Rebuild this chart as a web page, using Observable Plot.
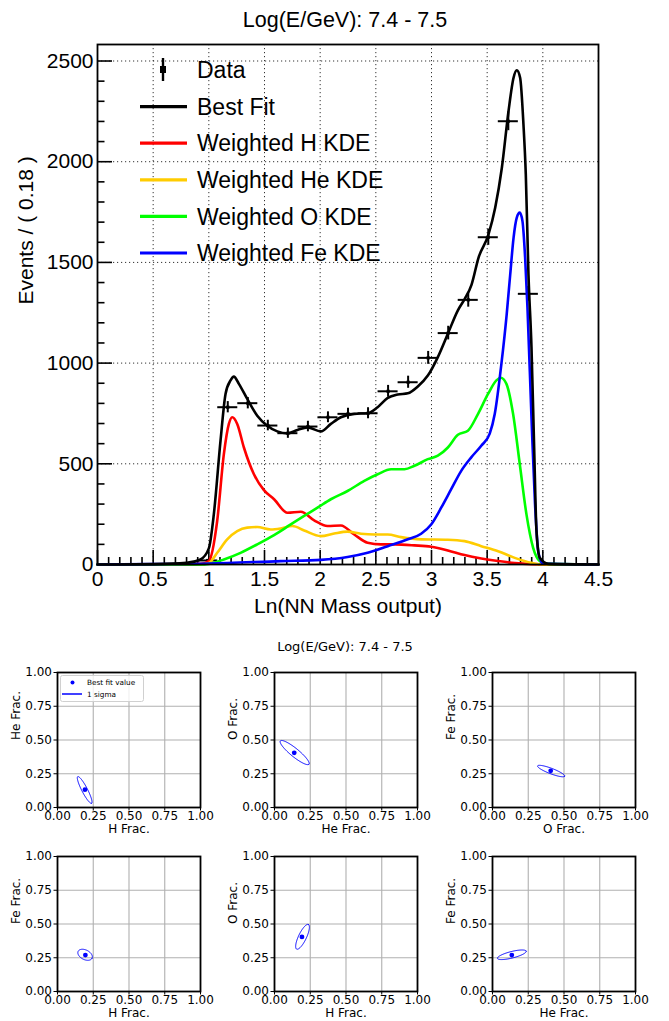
<!DOCTYPE html>
<html><head><meta charset="utf-8">
<script src="https://cdn.jsdelivr.net/npm/d3@7"></script>
<script src="https://cdn.jsdelivr.net/npm/@observablehq/plot@0.6"></script>
<style>
body{margin:0;background:#fff;}
#root{position:relative;width:669px;height:1021px;overflow:hidden;background:#fff;}
.abs{position:absolute;}
</style></head><body><div id="root"></div>
<script>
// ---------- Top chart data ----------
const titleText = "Log(E/GeV): 7.4 - 7.5";
const xAxisTitle = "Ln(NN Mass output)";
const yAxisTitle = "Events / ( 0.18 )";
const xMajor = [0, 0.5, 1, 1.5, 2, 2.5, 3, 3.5, 4, 4.5];
const xMajorLabels = ["0", "0.5", "1", "1.5", "2", "2.5", "3", "3.5", "4", "4.5"];
const yMajor = [0, 500, 1000, 1500, 2000, 2500];
const yMajorLabels = ["0", "500", "1000", "1500", "2000", "2500"];

const dataX = [0.09, 0.27, 0.45, 0.63, 0.81, 0.99, 1.17, 1.35, 1.53, 1.71, 1.89, 2.07, 2.25, 2.43, 2.61, 2.79, 2.97, 3.15, 3.33, 3.51, 3.69, 3.87, 4.05, 4.23, 4.41];
const dataY = [0, 0, 0, 0, 0, 20, 781, 801, 690, 652, 685, 731, 748, 751, 860, 905, 1026, 1149, 1314, 1625, 2201, 1344, 0, 0, 0];

const fitX = [0, 0.5, 0.8, 0.925, 1.0, 1.045, 1.105, 1.15, 1.195, 1.225, 1.27, 1.345, 1.435, 1.525, 1.615, 1.706, 1.796, 1.886, 2.006, 2.096, 2.186, 2.306, 2.426, 2.516, 2.607, 2.697, 2.787, 2.877, 2.967, 3.057, 3.147, 3.237, 3.30, 3.36, 3.422, 3.512, 3.572, 3.632, 3.692, 3.737, 3.766, 3.796, 3.826, 3.847, 3.871, 3.898, 3.922, 3.943, 3.973, 4.048, 4.5];
const fitY = [0, 2, 8, 25, 80, 250, 615, 847, 914, 933, 897, 822, 739, 689, 661, 651, 668, 681, 661, 698, 731, 748, 751, 781, 827, 844, 850, 884, 938, 1030, 1146, 1262, 1320, 1390, 1523, 1639, 1771, 1970, 2252, 2417, 2454, 2417, 2185, 1937, 1440, 1080, 581, 166, 33, 3, 0];

const hX = [0, 0.5, 0.925, 1.0, 1.075, 1.135, 1.18, 1.21, 1.255, 1.315, 1.405, 1.495, 1.586, 1.706, 1.826, 1.946, 2.066, 2.186, 2.306, 2.426, 2.547, 2.667, 2.847, 2.997, 3.147, 3.297, 3.447, 3.598, 3.748, 3.898, 4.1, 4.5];
const hY = [0, 0, 3, 17, 216, 548, 698, 731, 698, 581, 448, 369, 324, 257, 262, 219, 191, 194, 149, 108, 100, 100, 95, 88, 70, 47, 30, 17, 7, 2, 0, 0];

const heX = [0, 0.925, 1.0, 1.075, 1.165, 1.255, 1.345, 1.435, 1.556, 1.646, 1.751, 1.856, 2.006, 2.126, 2.246, 2.366, 2.486, 2.607, 2.727, 2.907, 3.147, 3.297, 3.447, 3.598, 3.748, 3.898, 3.988, 4.5];
const heY = [0, 0, 8, 58, 125, 166, 183, 186, 174, 179, 191, 169, 141, 154, 163, 153, 149, 149, 136, 125, 123, 116, 91, 66, 33, 8, 0, 0];

const oX = [0, 0.925, 1.0, 1.135, 1.285, 1.435, 1.586, 1.736, 1.856, 1.976, 2.096, 2.246, 2.396, 2.516, 2.637, 2.757, 2.847, 2.967, 3.057, 3.147, 3.237, 3.327, 3.417, 3.508, 3.583, 3.622, 3.673, 3.733, 3.793, 3.853, 3.913, 3.973, 4.048, 4.5];
const oY = [0, 0, 3, 25, 58, 100, 146, 199, 241, 282, 324, 365, 415, 448, 473, 473, 490, 523, 540, 581, 644, 664, 747, 847, 914, 927, 897, 747, 498, 249, 83, 17, 3, 0];

const feX = [0, 0.5, 1.0, 1.646, 2.006, 2.246, 2.426, 2.607, 2.787, 2.907, 2.997, 3.087, 3.177, 3.267, 3.357, 3.447, 3.523, 3.568, 3.628, 3.675, 3.707, 3.737, 3.766, 3.793, 3.817, 3.841, 3.862, 3.90, 3.93, 3.96, 4.0, 4.5];
const feY = [0, 2, 5, 17, 23, 37, 58, 91, 125, 153, 199, 282, 374, 465, 532, 590, 650, 747, 997, 1240, 1440, 1622, 1722, 1747, 1705, 1523, 1275, 700, 300, 60, 5, 0];

const legendLabels = ["Data", "Best Fit", "Weighted H KDE", "Weighted He KDE", "Weighted O KDE", "Weighted Fe KDE"];
const legendColors = ["#000000", "#000000", "#ff0000", "#ffcc00", "#00ff00", "#0000ff"];

// ---------- Bottom panels data ----------
const fracTicks = [0, 0.25, 0.5, 0.75, 1];
const panelXLabel = ["H Frac.", "He Frac.", "O Frac.", "H Frac.", "H Frac.", "He Frac."];
const panelYLabel = ["He Frac.", "O Frac.", "Fe Frac.", "Fe Frac.", "O Frac.", "Fe Frac."];
const bestX = [0.192, 0.138, 0.407, 0.195, 0.192, 0.135];
const bestY = [0.132, 0.405, 0.272, 0.27, 0.404, 0.27];
const ellCX = [0.19, 0.141, 0.41, 0.193, 0.196, 0.135];
const ellCY = [0.13, 0.407, 0.27, 0.272, 0.405, 0.272];
const ellA = [0.11, 0.132, 0.102, 0.055, 0.1, 0.104];
const ellB = [0.02, 0.03, 0.02, 0.035, 0.028, 0.024];
const ellAngle = [-64, -41, -22, -30, 66, 15];
const legendItems = ["Best fit value", "1 sigma"];

const root = document.getElementById("root");
const SANS = "'Liberation Sans', Arial, Helvetica, sans-serif";

// ---------- Top chart ----------
const pts = (xs, ys) => xs.map((x, i) => ({x, y: ys[i]}));
const data = pts(dataX, dataY);
const series = [
  {name: "Best Fit", color: "#000000", d: pts(fitX, fitY)},
  {name: "H", color: "#ff0000", d: pts(hX, hY)},
  {name: "He", color: "#ffcc00", d: pts(heX, heY)},
  {name: "O", color: "#00ff00", d: pts(oX, oY)},
  {name: "Fe", color: "#0000ff", d: pts(feX, feY)}
];
const xMinor = d3.range(0, 4.501, 0.1).map(v => +v.toFixed(2)).filter(v => !xMajor.includes(v));
const yMinor = d3.range(0, 2501, 100).filter(v => !yMajor.includes(v));

const yTop = 2582;
const pxPerX = (669 - 97 - 71) / 4.5;
const pxPerY = (564 - 44) / yTop;

const topChart = Plot.plot({
  width: 669, height: 630,
  marginLeft: 97, marginRight: 71, marginTop: 44, marginBottom: 66,
  style: {fontFamily: SANS, background: "transparent", color: "#000", overflow: "visible"},
  x: {domain: [0, 4.5], axis: null},
  y: {domain: [0, yTop], axis: null},
  marks: [
    Plot.ruleX(xMajor.slice(1, -1), {stroke: "#000", strokeWidth: 1, strokeDasharray: "1.2,2.8", strokeOpacity: 0.8}),
    Plot.ruleY(yMajor.slice(1), {stroke: "#000", strokeWidth: 1, strokeDasharray: "1.2,2.8", strokeOpacity: 0.8}),
    // ticks (inside)
    Plot.ruleX(xMajor, {y1: 0, y2: 14 / pxPerY, stroke: "#000", strokeWidth: 1.6}),
    Plot.ruleX(xMinor, {y1: 0, y2: 7 / pxPerY, stroke: "#000", strokeWidth: 1.6}),
    Plot.ruleY(yMajor, {x1: 0, x2: 15 / pxPerX, stroke: "#000", strokeWidth: 1.6}),
    Plot.ruleY(yMinor, {x1: 0, x2: 7.5 / pxPerX, stroke: "#000", strokeWidth: 1.6}),
    // data with error bars
    Plot.ruleY(data, {y: "y", x1: d => d.x - 0.09, x2: d => d.x + 0.09, stroke: "#000", strokeWidth: 2}),
    Plot.ruleX(data, {x: "x", y1: d => d.y - Math.sqrt(d.y), y2: d => d.y + Math.sqrt(d.y), stroke: "#000", strokeWidth: 2}),
    Plot.dot(data.filter(d => d.y > 0), {x: "x", y: "y", symbol: "square", r: 1.8, fill: "#000"}),
    // curves
    ...series.slice(1).concat(series.slice(0, 1)).map(s =>
      Plot.line(s.d, {x: "x", y: "y", stroke: s.color, strokeWidth: 2.6, curve: "monotone-x"})),
    Plot.frame({stroke: "#000", strokeWidth: 1.8}),
    // tick labels
    Plot.text(xMajor, {x: d => d, y: 0, text: (d, i) => xMajorLabels[i], dy: 15, fontSize: 21, fill: "#000"}),
    Plot.text(yMajor, {x: 0, y: d => d, text: (d, i) => yMajorLabels[i], dx: -4, textAnchor: "end", fontSize: 21, fill: "#000"}),
    Plot.text([xAxisTitle], {frameAnchor: "bottom", text: d => d, dy: 48, fontSize: 21, fill: "#000"}),
    Plot.text([yAxisTitle], {frameAnchor: "left", text: d => d, rotate: -90, dx: -71, fontSize: 21, fill: "#000"})
  ]
});
topChart.style.position = "absolute";
topChart.style.left = "0px";
topChart.style.top = "0px";
root.appendChild(topChart);

const title = document.createElement("div");
title.className = "abs";
title.textContent = titleText;
Object.assign(title.style, {left: "0px", width: "690px", top: "7px", textAlign: "center", fontFamily: SANS, fontSize: "21.5px", color: "#000", lineHeight: "26px"});
root.appendChild(title);

// Top legend
const lg = d3.select(root).append("svg").attr("class", "abs")
  .style("left", "0px").style("top", "0px").attr("width", 669).attr("height", 300);
legendLabels.forEach((lab, i) => {
  const cy = 70 + i * 36.6;
  if (i === 0) {
    lg.append("line").attr("x1", 163).attr("x2", 163).attr("y1", cy - 12).attr("y2", cy + 11).attr("stroke", "#000").attr("stroke-width", 2.4);
    lg.append("rect").attr("x", 160).attr("y", cy - 4).attr("width", 6).attr("height", 7).attr("fill", "#000");
  } else {
    lg.append("line").attr("x1", 140).attr("x2", 187).attr("y1", cy).attr("y2", cy).attr("stroke", legendColors[i]).attr("stroke-width", 3.2);
  }
  lg.append("text").attr("x", 197).attr("y", cy).attr("dy", "0.36em")
    .attr("font-family", SANS).attr("font-size", 23).attr("fill", "#000").text(lab);
});

// ---------- Bottom panels ----------
const DV = "'DejaVu Sans', sans-serif";
const sup = document.createElement("div");
sup.className = "abs";
sup.textContent = titleText;
Object.assign(sup.style, {left: "0px", width: "690px", top: "638px", textAlign: "center", fontFamily: DV, fontSize: "13px", color: "#000", lineHeight: "18px"});
root.appendChild(sup);

const panelLeft = [57, 274, 492, 57, 274, 492];
const panelTop = [672, 672, 672, 856, 856, 856];
const PW = 143, PH = 135, ML = 45, MT = 10, MR = 10, MB = 35;

for (let i = 0; i < 6; i++) {
  const th = ellAngle[i] * Math.PI / 180;
  const ell = d3.range(0, 361, 3).map(t => {
    const r = t * Math.PI / 180;
    const u = ellA[i] * Math.cos(r), v = ellB[i] * Math.sin(r);
    return {x: ellCX[i] + u * Math.cos(th) - v * Math.sin(th), y: ellCY[i] + u * Math.sin(th) + v * Math.cos(th)};
  });
  const p = Plot.plot({
    width: PW + ML + MR, height: PH + MT + MB,
    marginLeft: ML, marginRight: MR, marginTop: MT, marginBottom: MB,
    style: {fontFamily: DV, fontSize: "12px", background: "transparent", color: "#000", overflow: "visible"},
    x: {domain: [0, 1]}, y: {domain: [0, 1]},
    marks: [
      Plot.gridX([0.25, 0.5, 0.75], {stroke: "#b0b0b0", strokeOpacity: 1, strokeWidth: 1.1}),
      Plot.gridY([0.25, 0.5, 0.75], {stroke: "#b0b0b0", strokeOpacity: 1, strokeWidth: 1.1}),
      Plot.axisX(fracTicks, {tickFormat: d => d.toFixed(2), tickSize: 3.5, tickPadding: 0, label: null, fontSize: 12, stroke: "#000"}),
      Plot.axisY(fracTicks, {tickFormat: d => d.toFixed(2), tickSize: 3.5, tickPadding: 2, label: null, fontSize: 12, stroke: "#000"}),
      Plot.line(ell, {x: "x", y: "y", stroke: "#0000ff", strokeWidth: 1}),
      Plot.dot([{x: bestX[i], y: bestY[i]}], {x: "x", y: "y", r: 2.4, fill: "#0000ff"}),
      Plot.frame({stroke: "#000", strokeWidth: 1.8}),
      Plot.text([panelXLabel[i]], {frameAnchor: "bottom", text: d => d, dy: 25, fontSize: 12, fill: "#000"}),
      Plot.text([panelYLabel[i]], {frameAnchor: "left", text: d => d, rotate: -90, dx: -41, fontSize: 12, fill: "#000"})
    ]
  });
  p.style.position = "absolute";
  p.style.left = (panelLeft[i] - ML) + "px";
  p.style.top = (panelTop[i] - MT) + "px";
  root.appendChild(p);
}

// legend in first panel
const pl = d3.select(root).append("svg").attr("class", "abs")
  .style("left", "60px").style("top", "675px").attr("width", 86).attr("height", 28);
pl.append("rect").attr("x", 0.5).attr("y", 0.5).attr("width", 83).attr("height", 26).attr("rx", 2)
  .attr("fill", "rgba(255,255,255,0.8)").attr("stroke", "#d0d0d0").attr("stroke-width", 1);
pl.append("circle").attr("cx", 12.5).attr("cy", 7.5).attr("r", 2).attr("fill", "#0000ff");
pl.append("line").attr("x1", 2).attr("x2", 22).attr("y1", 19).attr("y2", 19).attr("stroke", "#0000ff").attr("stroke-width", 1.5);
legendItems.forEach((t, i) => {
  pl.append("text").attr("x", 27).attr("y", 7.5 + i * 11.5).attr("dy", "0.35em")
    .attr("font-family", DV).attr("font-size", 7.3).attr("fill", "#000").text(t);
});
</script>
</body></html>
